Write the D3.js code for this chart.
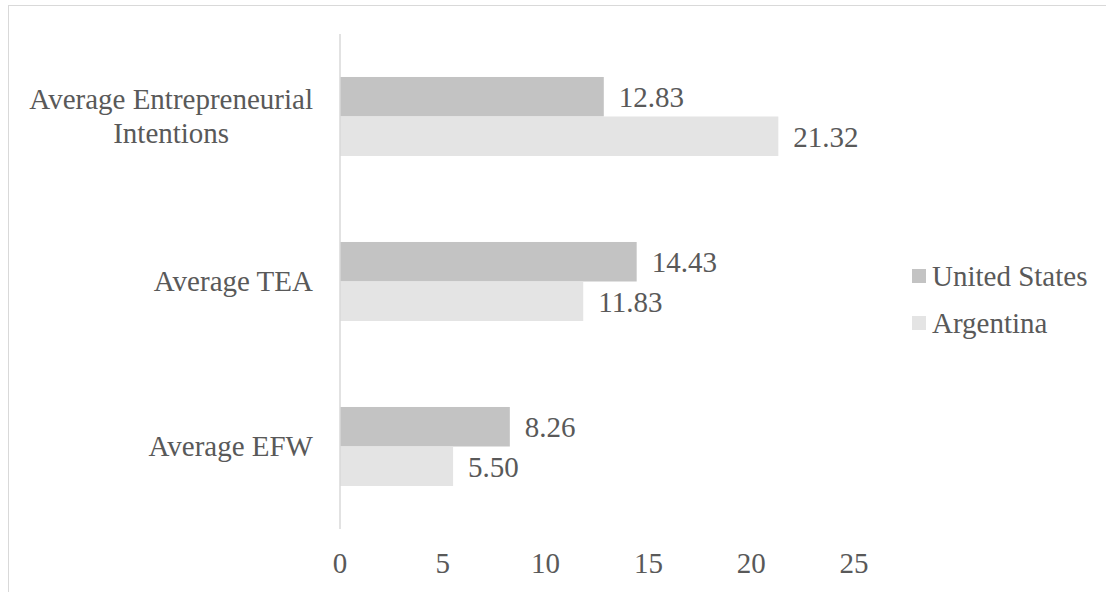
<!DOCTYPE html>
<html>
<head>
<meta charset="utf-8">
<script src="https://cdn.jsdelivr.net/npm/d3@7"></script>
<style>
  body { margin: 0; background: #fff; }
</style>
</head>
<body>
<script>
// chart data
var categories = ["Average Entrepreneurial Intentions", "Average TEA", "Average EFW"];
var labelLines = [["Average Entrepreneurial", "Intentions"], ["Average TEA"], ["Average EFW"]];
var seriesNames = ["United States", "Argentina"];
var unitedStates = [12.83, 14.43, 8.26];
var argentina = [21.32, 11.83, 5.50];
var xTicks = [0, 5, 10, 15, 20, 25];

var seriesValues = [unitedStates, argentina];
var colors = ["#c3c3c3", "#e4e4e4"];
var fontFam = "'Liberation Serif', Tinos, 'Times New Roman', Times, 'DejaVu Serif', serif";

var width = 1106, height = 592;

var svg = d3.select("body").append("svg")
    .attr("width", width)
    .attr("height", height)
    .attr("font-family", fontFam);

// chart border
svg.append("rect")
    .attr("x", 8.5).attr("y", 5.5)
    .attr("width", width + 20).attr("height", height + 20)
    .attr("fill", "none")
    .attr("stroke", "#d9d9d9");

var x = d3.scaleLinear().domain([0, 25]).range([340, 854]);

var y = d3.scaleBand()
    .domain(categories)
    .range([34, 529])
    .paddingInner(0.521)
    .paddingOuter(0.2605);

var ySub = d3.scaleBand()
    .domain(seriesNames)
    .range([0, y.bandwidth()]);

function label(sel){
    return sel.attr("font-family", fontFam)
        .attr("font-size", 29)
        .attr("fill", "#595959");
}

// bars
seriesNames.forEach(function(name, s){
    var g = svg.append("g");
    g.selectAll("rect")
        .data(seriesValues[s])
        .enter()
        .append("rect")
        .attr("x", x(0))
        .attr("y", function(d, i){ return y(categories[i]) + ySub(name); })
        .attr("width", function(d){ return x(d) - x(0); })
        .attr("height", ySub.bandwidth())
        .attr("fill", colors[s]);

    g.selectAll("text")
        .data(seriesValues[s])
        .enter()
        .append("text")
        .call(label)
        .attr("x", function(d){ return x(d) + 15; })
        .attr("y", function(d, i){ return y(categories[i]) + ySub(name) + ySub.bandwidth() / 2; })
        .attr("dy", "0.36em")
        .text(function(d){ return d.toFixed(2); });
});

// vertical axis line
svg.append("line")
    .attr("x1", x(0)).attr("x2", x(0))
    .attr("y1", 34).attr("y2", 529)
    .attr("stroke", "#d9d9d9")
    .attr("stroke-width", 1.5);

// x tick labels
svg.selectAll(".tick")
    .data(xTicks)
    .enter()
    .append("text")
    .attr("class", "tick")
    .call(label)
    .attr("x", function(d){ return x(d); })
    .attr("y", 573)
    .attr("text-anchor", "middle")
    .text(function(d){ return d; });

// category labels, right edge of longest line at 313, lines centred
categories.forEach(function(c, i){
    var lines = labelLines[i];
    var cy = y(c) + y.bandwidth() / 2;
    var lh = 34;
    var g = svg.append("g");
    var texts = lines.map(function(l, j){
        return g.append("text")
            .call(label)
            .attr("y", cy - (lines.length - 1) * lh / 2 + j * lh)
            .attr("dy", "0.32em")
            .attr("text-anchor", "middle")
            .text(l);
    });
    var maxW = d3.max(texts, function(t){ return t.node().getComputedTextLength(); });
    texts.forEach(function(t){ t.attr("x", 313 - maxW / 2); });
});

// legend
seriesNames.forEach(function(name, s){
    var ly = 276 + s * 47;
    svg.append("rect")
        .attr("x", 912).attr("y", ly - 7)
        .attr("width", 14).attr("height", 14)
        .attr("fill", colors[s]);
    svg.append("text")
        .call(label)
        .attr("x", 932).attr("y", ly)
        .attr("dy", "0.33em")
        .text(name);
});
</script>
</body>
</html>
